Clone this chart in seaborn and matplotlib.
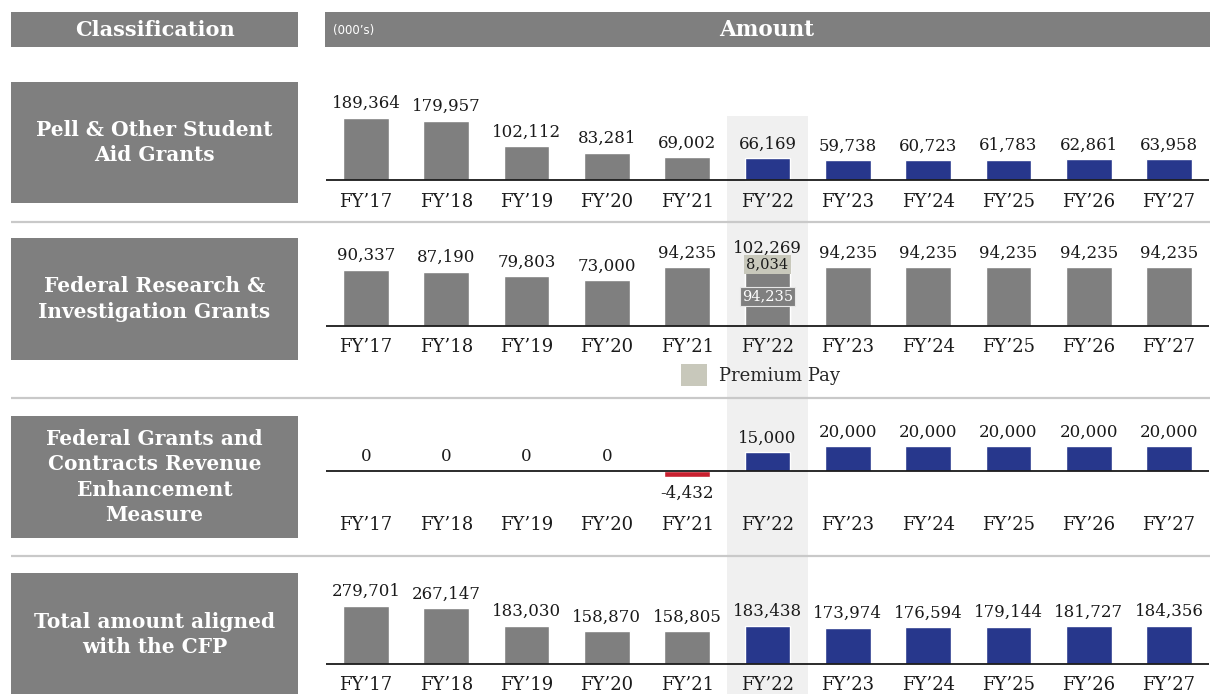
import matplotlib
matplotlib.use("Agg")
import matplotlib.pyplot as plt
from matplotlib.patches import Rectangle, Patch
import pandas as pd
import seaborn as sns

# ---- data (thousands of dollars) ----
years = ["FY’17", "FY’18", "FY’19", "FY’20", "FY’21", "FY’22",
         "FY’23", "FY’24", "FY’25", "FY’26", "FY’27"]

pell_grants = [189364, 179957, 102112, 83281, 69002, 66169,
               59738, 60723, 61783, 62861, 63958]
pell_kind = ["actual"] * 5 + ["plan"] * 6

research_base = [90337, 87190, 79803, 73000, 94235, 94235,
                 94235, 94235, 94235, 94235, 94235]
research_premium = [0, 0, 0, 0, 0, 8034, 0, 0, 0, 0, 0]

revenue_measure = [0, 0, 0, 0, -4432, 15000, 20000, 20000, 20000, 20000, 20000]
revenue_kind = ["actual"] * 4 + ["reduction"] + ["plan"] * 6

total_aligned = [279701, 267147, 183030, 158870, 158805, 183438,
                 173974, 176594, 179144, 181727, 184356]
total_kind = ["actual"] * 5 + ["plan"] * 6

row_titles = ["Pell & Other Student\nAid Grants",
              "Federal Research &\nInvestigation Grants",
              "Federal Grants and\nContracts Revenue\nEnhancement\nMeasure",
              "Total amount aligned\nwith the CFP"]

# ---- styling ----
GRAY = "#7f7f7f"
NAVY = "#27378c"
RED = "#c8202f"
BEIGE = "#c8c8bb"
HILITE = "#f0f0f0"
RULE = "#c9c9c9"
INK = "#1a1a1a"
palette = {"actual": GRAY, "plan": NAVY, "reduction": RED, "premium": BEIGE}

sns.set_style("white")
plt.rcParams["font.family"] = ["DejaVu Serif"]

W, H = 1210, 694
fig = plt.figure(figsize=(W / 100, H / 100), dpi=100)


def frac(x0, y0, x1, y1):
    return [x0 / W, 1 - y1 / H, (x1 - x0) / W, (y1 - y0) / H]


# background canvas in pixel units
bg = fig.add_axes([0, 0, 1, 1])
bg.set_xlim(0, W)
bg.set_ylim(H, 0)
bg.axis("off")

# highlighted current-year column
bg.add_patch(Rectangle((727, 116), 81, 600, color=HILITE, lw=0, zorder=0))

# header bars
bg.add_patch(Rectangle((11, 12), 287, 35, color=GRAY, lw=0))
bg.add_patch(Rectangle((325, 12), 885, 35, color=GRAY, lw=0))
bg.text(154.5, 29.5, "Classification", color="white", fontsize=15,
        fontweight="bold", ha="center", va="center")
bg.text(767, 29.5, "Amount", color="white", fontsize=15.5,
        fontweight="bold", ha="center", va="center")
bg.text(333, 30, "(000’s)", color="white", fontsize=8.5,
        ha="left", va="center", family=["DejaVu Sans"])

# row title boxes and separators
box_spans = [(82, 203), (238, 360), (416, 538), (573, 696)]
for (y0, y1), title in zip(box_spans, row_titles):
    bg.add_patch(Rectangle((11, y0), 287, y1 - y0, color=GRAY, lw=0))
    bg.text(154.5, (y0 + y1) / 2, title, color="white", fontsize=14.5,
            fontweight="bold", ha="center", va="center", linespacing=1.35)
for y in (222, 398, 556):
    bg.plot([11, 1210], [y, y], color=RULE, lw=1.6, solid_capstyle="butt")

# panel geometry: baseline pixel, value per pixel, top pixel, bottom pixel
panels = [
    dict(base=180, scale=3030, top=95, bottom=193),
    dict(base=326, scale=1600, top=240, bottom=338),
    dict(base=471, scale=800, top=420, bottom=516),
    dict(base=664, scale=4800, top=578, bottom=676),
]

X0, X1 = 325.85, 1209.15
VAL_FS = 12
BAR_W = 0.57


def make_axes(p):
    ax = fig.add_axes(frac(X0, p["top"], X1, p["bottom"]))
    ax.patch.set_alpha(0)
    return ax


def finish(ax, p):
    ax.set_xlim(-0.5, 10.5)
    ax.set_ylim((p["base"] - p["bottom"]) * p["scale"],
                (p["base"] - p["top"]) * p["scale"])
    ax.axhline(0, color=INK, lw=1.3, zorder=5)
    for s in ax.spines.values():
        s.set_visible(False)
    ax.set_yticks([])
    ax.set_xlabel("")
    ax.set_ylabel("")
    ax.tick_params(axis="x", length=0, pad=0, labelsize=13, labelcolor=INK)


def value_labels(ax, values):
    for i, v in enumerate(values):
        if v >= 0:
            ax.annotate(f"{v:,}", (i, v), xytext=(0, 4), textcoords="offset points",
                        ha="center", va="bottom", fontsize=VAL_FS, color=INK)
        else:
            ax.annotate(f"{v:,}", (i, v), xytext=(0, -6), textcoords="offset points",
                        ha="center", va="top", fontsize=VAL_FS, color=INK)


def bars(ax, values, kinds):
    df = pd.DataFrame({"year": years, "value": values, "kind": kinds})
    used = {k: palette[k] for k in dict.fromkeys(kinds)}
    sns.barplot(data=df, x="year", y="value", hue="kind", palette=used,
                order=years, dodge=False, width=BAR_W, saturation=1,
                errorbar=None, legend=False, ax=ax, zorder=2)


# Pell & other student aid grants
ax1 = make_axes(panels[0])
bars(ax1, pell_grants, pell_kind)
finish(ax1, panels[0])
value_labels(ax1, pell_grants)

# Federal research & investigation grants (stacked premium pay)
ax2 = make_axes(panels[1])
research_total = [b + q for b, q in zip(research_base, research_premium)]
stack_kind = ["premium" if q > 0 else "actual" for q in research_premium]
bars(ax2, research_total, stack_kind)
bars(ax2, research_base, ["actual"] * len(years))
finish(ax2, panels[1])
value_labels(ax2, research_total)
for i, q in enumerate(research_premium):
    if q > 0:
        b = research_base[i]
        ax2.text(i, b + q / 2, f"{q:,}", ha="center", va="center",
                 fontsize=10.5, color=INK, zorder=6,
                 bbox=dict(boxstyle="square,pad=0.15", fc=BEIGE, ec="none"))
        ax2.text(i, b / 2, f"{b:,}", ha="center", va="center",
                 fontsize=10.5, color="white", zorder=6,
                 bbox=dict(boxstyle="square,pad=0.15", fc=GRAY, ec="#e6e6e6", lw=0.8))
ax2.legend(handles=[Patch(facecolor=BEIGE, edgecolor="none", label="Premium Pay")],
           loc="center left", bbox_to_anchor=(681 / W, 1 - 375 / H),
           bbox_transform=fig.transFigure, frameon=False, fontsize=13,
           handlelength=1.45, handleheight=1.45, handletextpad=0.65,
           borderpad=0, borderaxespad=0)

# Federal grants and contracts revenue enhancement measure
ax3 = make_axes(panels[2])
bars(ax3, revenue_measure, revenue_kind)
finish(ax3, panels[2])
value_labels(ax3, revenue_measure)

# Total amount aligned with the CFP
ax4 = make_axes(panels[3])
bars(ax4, total_aligned, total_kind)
finish(ax4, panels[3])
value_labels(ax4, total_aligned)

fig.savefig("out.png", dpi=100)
